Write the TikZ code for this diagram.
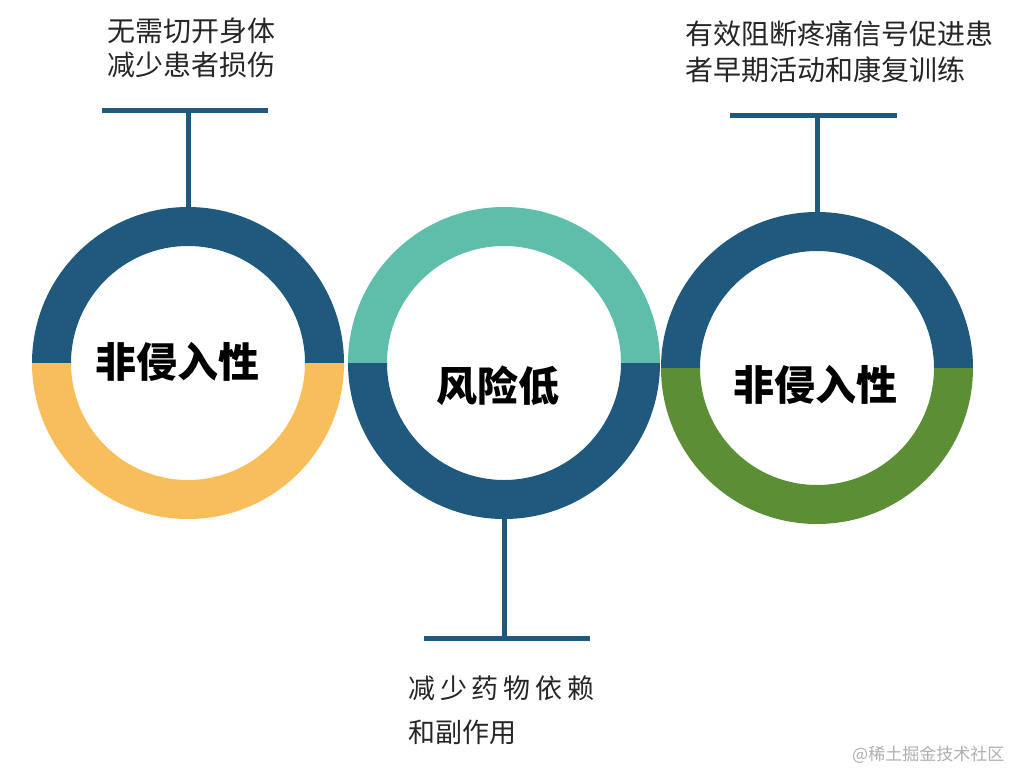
\documentclass[tikz,border=0pt]{standalone}
\usepackage{fontspec}
\newfontfamily\cjk{Noto Sans CJK SC}
\usetikzlibrary{calc,positioning}
\definecolor{navy}{RGB}{31,90,126}
\definecolor{gold}{RGB}{247,190,91}
\definecolor{teal}{RGB}{94,190,170}
\definecolor{leaf}{RGB}{91,142,53}
\definecolor{mark}{RGB}{175,175,175}

\newcommand{\halfring}[3]{%
  \fill[#3] ($(#1)+(#2:156)$) arc[start angle=#2, delta angle=180, radius=156]
    -- ($(#1)+(#2+180:117)$) arc[start angle=#2+180, delta angle=-180, radius=117] -- cycle;}

\begin{document}
\begin{tikzpicture}[x=1pt, y=-1pt,
  ring/.style={circle, minimum size=312pt, inner sep=0pt},
  title/.style={inner sep=0pt, font=\cjk\bfseries\fontsize{41}{41}\selectfont},
  desc/.style={inner sep=0pt, anchor=west, align=left, text=black!85},
  stem/.style={navy, line width=5pt}]
\useasboundingbox[fill=white] (0,0) rectangle (1017,768);

\foreach \n/\x/\y/\up/\down in {l/188/363/navy/gold, m/504/363/teal/navy, r/817/368/navy/leaf}{
  \node[ring] (\n) at (\x,\y) {};
  \halfring{\n}{180}{\up}
  \halfring{\n}{0}{\down}
}

\node[title] (lt) at (177,362) {非侵入性};
\node[title] (mt) at (498,386) {风险低};
\node[title] (rt) at (815,385) {非侵入性};

\coordinate (ltee) at (188,110.5);
\coordinate (mtee) at (504,638);
\coordinate (rtee) at (817,115);
\draw[stem] (l.north) -- (ltee);
\draw[stem] (m.south) -- (mtee);
\draw[stem] (r.north) -- (rtee);
\draw[stem] (102,110.5) -- (268,110.5);
\draw[stem] (424,638) -- (590,638);
\draw[stem] (730,115) -- (897,115);

\node[desc, font=\cjk\fontsize{28}{34}\selectfont] (ld) at (107,48)
  {无需切开身体\\减少患者损伤};
\node[desc, font=\cjk\fontsize{28}{36}\selectfont] (rd) at (685,52)
  {有效阻断疼痛信号促进患\\者早期活动和康复训练};
\node[desc, font=\cjk\fontsize{27}{44}\selectfont] (md) at (408,710)
  {{\addfontfeature{LetterSpace=18}减少药物依赖}\\和副作用};

\node[anchor=west, inner sep=0pt, text=mark, font=\cjk\fontsize{17}{17}\selectfont] (wm) at (852,755) {@稀土掘金技术社区};
\end{tikzpicture}
\end{document}
